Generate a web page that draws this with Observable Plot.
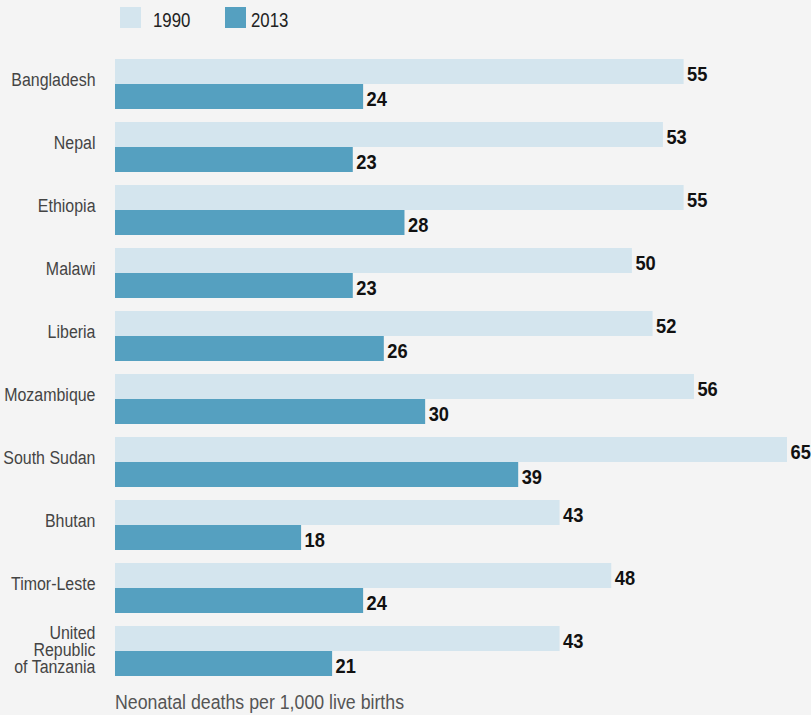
<!DOCTYPE html>
<html>
<head>
<meta charset="utf-8">
<script src="https://cdn.jsdelivr.net/npm/d3@7"></script>
<script src="https://cdn.jsdelivr.net/npm/@observablehq/plot@0.6"></script>
<style>
  html, body { margin: 0; padding: 0; background: #f4f4f4; }
  body { width: 811px; height: 715px; position: relative; overflow: hidden;
         font-family: "Liberation Sans", Arial, sans-serif; }
  #legend { position: relative; height: 36px; }
  .sw { position: absolute; top: 7px; width: 21px; height: 21px; }
  .lt { position: absolute; top: 9px; font-size: 21px; color: #222; line-height: 21px;
        transform: scaleX(0.8); transform-origin: 0 0; white-space: nowrap; }
  #chart svg { display: block; }
  #caption { position: absolute; left: 115px; top: 692px; font-size: 19.5px; color: #555; line-height: 20px;
        transform: scaleX(0.91); transform-origin: 0 0; white-space: nowrap; }
</style>
</head>
<body>
<div id="legend"></div>
<div id="chart"></div>
<div id="caption"></div>
<script>
const countries = ["Bangladesh","Nepal","Ethiopia","Malawi","Liberia","Mozambique","South Sudan","Bhutan","Timor-Leste","United Republic of Tanzania"];
const countryLabels = ["Bangladesh","Nepal","Ethiopia","Malawi","Liberia","Mozambique","South Sudan","Bhutan","Timor-Leste","United\nRepublic\nof Tanzania"];
const years = ["1990","2013"];
const values1990 = [55,53,55,50,52,56,65,43,48,43];
const values2013 = [24,23,28,23,26,30,39,18,24,21];
const colors = ["#d4e5ee","#55a0c0"];
const captionText = "Neonatal deaths per 1,000 live births";

const data = countries.flatMap((c, i) => [
  {country: c, year: years[0], value: values1990[i]},
  {country: c, year: years[1], value: values2013[i]}
]);
const labelOf = new Map(countries.map((c, i) => [c, countryLabels[i]]));
const singleLine = countries.filter(c => !labelOf.get(c).includes("\n"));
const multiLine = countries.filter(c => labelOf.get(c).includes("\n"));

// legend
const legend = document.getElementById("legend");
const legendPos = [{sw: 120, tx: 153}, {sw: 225, tx: 251}];
years.forEach((y, i) => {
  const s = document.createElement("div");
  s.className = "sw"; s.style.left = legendPos[i].sw + "px"; s.style.background = colors[i];
  legend.appendChild(s);
  const t = document.createElement("div");
  t.className = "lt"; t.style.left = legendPos[i].tx + "px"; t.textContent = y;
  legend.appendChild(t);
});

const font = '"Liberation Sans", Arial, sans-serif';
const axisOpts = {anchor: "left", tickSize: 0, tickPadding: 20, label: null,
  tickFormat: d => labelOf.get(d), fontSize: 19, fill: "#444"};
const chart = Plot.plot({
  width: 811,
  height: 650,
  marginLeft: 115,
  marginRight: 24,
  marginTop: 22,
  marginBottom: 9,
  style: {background: "transparent", fontFamily: font, fontSize: "19px", overflow: "visible"},
  x: {domain: [0, 65], axis: null},
  y: {domain: years, axis: null, padding: 0},
  fy: {domain: countries, paddingInner: 0.2, paddingOuter: 0, axis: null},
  color: {domain: years, range: colors},
  marks: [
    Plot.barX(data, {fy: "country", y: "year", x: "value", fill: "year"}),
    Plot.text(data, {fy: "country", y: "year", x: "value", text: d => String(d.value),
      dx: 3, dy: 2, textAnchor: "start", fontWeight: "bold", fontSize: 21, fill: "#111"}),
    Plot.axisFy({...axisOpts, ticks: singleLine, dy: -5}),
    Plot.axisFy({...axisOpts, ticks: multiLine, dy: -1, lineHeight: 0.9})
  ]
});
document.getElementById("chart").appendChild(chart);
document.getElementById("caption").textContent = captionText;

// horizontally condense the SVG texts (the reference uses a condensed typeface);
// Plot positions each text with a translate() transform, so a scale appended to it
// keeps the anchor point fixed.
chart.querySelectorAll("text").forEach(el => {
  const w = getComputedStyle(el).fontWeight;
  const k = (w === "bold" || +w >= 600) ? 0.87 : 0.84;
  const t = el.getAttribute("transform") || "";
  el.setAttribute("transform", `${t} scale(${k},1)`);
});
</script>
</body>
</html>
